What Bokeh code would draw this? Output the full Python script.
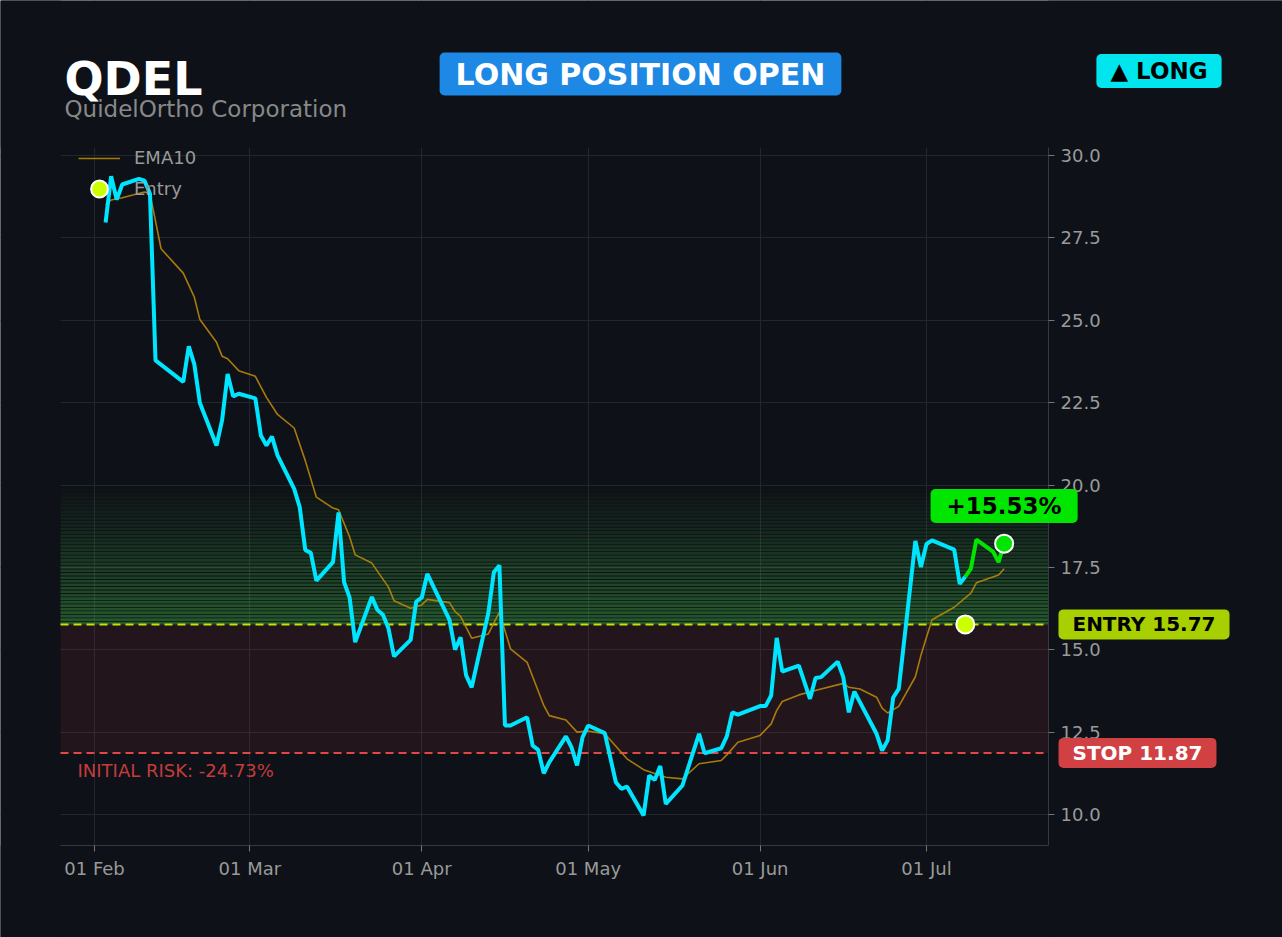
import re
from datetime import datetime, timedelta
import pandas as pd
from bokeh.plotting import figure
from bokeh.models import (BoxAnnotation, Label, Legend, LegendItem, MonthsTicker,
                          DatetimeTickFormatter, SingleIntervalTicker, NumeralTickFormatter, Range1d)
from bokeh.embed import file_html
from bokeh.resources import INLINE

# ---------------- data ----------------
TICKER = "QDEL"
COMPANY = "QuidelOrtho Corporation"
ENTRY = 15.77
STOP = 11.87
ENTRY_DATE = "2026-07-08"

price_dates = [
    "2026-02-03", "2026-02-04", "2026-02-05", "2026-02-06", "2026-02-09", "2026-02-10", "2026-02-11", "2026-02-12",
    "2026-02-17", "2026-02-18", "2026-02-19", "2026-02-20", "2026-02-23", "2026-02-24", "2026-02-25", "2026-02-26", "2026-02-27",
    "2026-03-02", "2026-03-03", "2026-03-04", "2026-03-05", "2026-03-06", "2026-03-09", "2026-03-10", "2026-03-11", "2026-03-12", "2026-03-13",
    "2026-03-16", "2026-03-17", "2026-03-18", "2026-03-19", "2026-03-20", "2026-03-23", "2026-03-24", "2026-03-25", "2026-03-26", "2026-03-27",
    "2026-03-30", "2026-03-31", "2026-04-01", "2026-04-02", "2026-04-06", "2026-04-07", "2026-04-08", "2026-04-09", "2026-04-10",
    "2026-04-13", "2026-04-14", "2026-04-15", "2026-04-16", "2026-04-17", "2026-04-20", "2026-04-21", "2026-04-22", "2026-04-23", "2026-04-24",
    "2026-04-27", "2026-04-28", "2026-04-29", "2026-04-30", "2026-05-01", "2026-05-04", "2026-05-06", "2026-05-07", "2026-05-08",
    "2026-05-11", "2026-05-12", "2026-05-13", "2026-05-14", "2026-05-15", "2026-05-18", "2026-05-21", "2026-05-22", "2026-05-25", "2026-05-26", "2026-05-27", "2026-05-28",
    "2026-06-01", "2026-06-02", "2026-06-03", "2026-06-04", "2026-06-05", "2026-06-08", "2026-06-10", "2026-06-11", "2026-06-12",
    "2026-06-15", "2026-06-16", "2026-06-17", "2026-06-18", "2026-06-22", "2026-06-23", "2026-06-24", "2026-06-25", "2026-06-26",
    "2026-06-29", "2026-06-30", "2026-07-01", "2026-07-02", "2026-07-06", "2026-07-07", "2026-07-08", "2026-07-09", "2026-07-10",
    "2026-07-13", "2026-07-14", "2026-07-15",
]
price_vals = [
    27.97, 29.37, 28.66, 29.12, 29.29, 29.24, 28.84, 23.78,
    23.13, 24.21, 23.66, 22.49, 21.20, 21.96, 23.37, 22.69, 22.77,
    22.63, 21.50, 21.20, 21.47, 20.90, 19.88, 19.33, 18.03, 17.94, 17.10,
    17.66, 19.17, 17.05, 16.58, 15.23, 16.60, 16.21, 16.06, 15.65, 14.80,
    15.30, 16.46, 16.58, 17.30, 15.91, 15.00, 15.38, 14.22, 13.86,
    16.11, 17.35, 17.56, 12.70, 12.70, 12.95, 12.09, 11.96, 11.25, 11.59,
    12.37, 12.04, 11.49, 12.35, 12.70, 12.47, 10.98, 10.78, 10.85,
    9.97, 11.18, 11.05, 11.47, 10.32, 10.88, 12.45, 11.86, 12.01, 12.37, 13.10, 13.03,
    13.29, 13.29, 13.61, 15.36, 14.34, 14.52, 13.51, 14.14, 14.17,
    14.64, 14.17, 13.10, 13.73, 12.45, 11.94, 12.25, 13.55, 13.81,
    18.30, 17.51, 18.21, 18.32, 18.04, 17.00, 17.22, 17.46, 18.34,
    17.98, 17.66, 18.219,
]

ema_dates = [
    "2026-02-03", "2026-02-04", "2026-02-06", "2026-02-10", "2026-02-11", "2026-02-13", "2026-02-17", "2026-02-19", "2026-02-20",
    "2026-02-23", "2026-02-24", "2026-02-25", "2026-02-27",
    "2026-03-02", "2026-03-04", "2026-03-06", "2026-03-09", "2026-03-11", "2026-03-13", "2026-03-16", "2026-03-17", "2026-03-19",
    "2026-03-20", "2026-03-23", "2026-03-26", "2026-03-27", "2026-03-30",
    "2026-04-01", "2026-04-02", "2026-04-06", "2026-04-07", "2026-04-08", "2026-04-10", "2026-04-13", "2026-04-15", "2026-04-17",
    "2026-04-20", "2026-04-23", "2026-04-24", "2026-04-27", "2026-04-29",
    "2026-05-01", "2026-05-04", "2026-05-08", "2026-05-11", "2026-05-15", "2026-05-18", "2026-05-21", "2026-05-25", "2026-05-26", "2026-05-28",
    "2026-06-01", "2026-06-03", "2026-06-04", "2026-06-05", "2026-06-08", "2026-06-12", "2026-06-16", "2026-06-17", "2026-06-19",
    "2026-06-22", "2026-06-23", "2026-06-24", "2026-06-26", "2026-06-29", "2026-06-30",
    "2026-07-01", "2026-07-02", "2026-07-06", "2026-07-09", "2026-07-10", "2026-07-14", "2026-07-15",
]
ema_vals = [
    28.50, 28.65, 28.72, 28.89, 28.85, 27.17, 26.43, 25.70, 25.02, 24.33, 23.91, 23.83, 23.47,
    23.30, 22.66, 22.14, 21.73, 20.74, 19.63, 19.30, 19.25, 18.42, 17.88, 17.63, 16.90, 16.49, 16.26,
    16.36, 16.53, 16.43, 16.16, 16.01, 15.35, 15.48, 16.14, 15.03, 14.62, 13.31, 13.00, 12.87, 12.50,
    12.53, 12.45, 11.69, 11.36, 11.13, 11.08, 11.54, 11.64, 11.81, 12.19,
    12.40, 12.75, 13.16, 13.43, 13.63, 13.81, 13.98, 13.86, 13.81, 13.56, 13.23, 13.08, 13.28, 14.18, 14.83,
    15.38, 15.91, 16.29, 16.72, 17.03, 17.27, 17.46,
]

y_tick_interval = 2.5

# ---------------- styling / layout ----------------
BG = "#0e1117"
FONT = "DejaVu Sans"
W, H = 1282, 937
# plot area in page pixels
AL, AR, AT, AB = 60, 1048, 147, 845

def ms(dt):
    return (dt - datetime(1970, 1, 1)).total_seconds() * 1000.0

feb1 = datetime(2026, 2, 1)
X0 = ms(feb1 - timedelta(days=6.13))     # left edge of plot area
X1 = ms(feb1 + timedelta(days=172.0))    # right edge of plot area
Y0, Y1 = 9.059, 30.243                   # bottom / top of plot area
UPX = (X1 - X0) / (AR - AL)
UPY = (Y1 - Y0) / (AB - AT)

def PX(px):
    return X0 + (px - AL) * UPX

def PY(py):
    return Y0 + (AB - py) * UPY

pdates = pd.to_datetime(price_dates)
edates = pd.to_datetime(ema_dates)
entry_dt = pd.Timestamp(ENTRY_DATE)

pre_x = [d for d in pdates if d <= entry_dt]
pre_y = [v for d, v in zip(pdates, price_vals) if d <= entry_dt]
post_x = [d for d in pdates if d >= entry_dt]
post_y = [v for d, v in zip(pdates, price_vals) if d >= entry_dt]

last_x, last_y = pdates[-1], price_vals[-1]
pnl = (last_y / ENTRY - 1) * 100
risk = (STOP / ENTRY - 1) * 100

# the frame covers the whole canvas; axes are pinned to the plot-area edges
p = figure(width=W, height=H, x_axis_type="datetime", y_axis_location="right",
           x_range=Range1d(PX(0), PX(W)), y_range=Range1d(PY(H), PY(0)),
           output_backend="svg", toolbar_location=None, min_border=0)
p.background_fill_color = BG
p.border_fill_color = BG
p.outline_line_color = None

# grid (masked outside the plot area)
p.xgrid.grid_line_color = "#22262d"
p.ygrid.grid_line_color = "#22262d"
p.xgrid.level = "image"
p.ygrid.level = "image"
for kw in (dict(bottom=Y1), dict(top=Y0), dict(right=X0), dict(left=X1)):
    p.add_layout(BoxAnnotation(fill_color=BG, fill_alpha=1.0, line_color=None, level="underlay", **kw))

# axes
p.xaxis.ticker = MonthsTicker(months=list(range(1, 13)))
p.xaxis.formatter = DatetimeTickFormatter(months="%d %b", days="%d %b")
p.yaxis.ticker = SingleIntervalTicker(interval=y_tick_interval, num_minor_ticks=0)
p.yaxis.formatter = NumeralTickFormatter(format="0.0")
p.xaxis.fixed_location = Y0
p.yaxis.fixed_location = X1
p.xaxis.bounds = (X0, X1)
p.yaxis.bounds = (Y0, Y1)
for ax in (p.xaxis[0], p.yaxis[0]):
    ax.axis_line_color = "#353a42"
    ax.major_tick_line_color = "#777777"
    ax.major_tick_out = 6
    ax.major_tick_in = 0
    ax.minor_tick_line_color = None
    ax.major_label_text_color = "#9a9a9a"
    ax.major_label_text_font = FONT
    ax.major_label_text_font_size = "18px"
    ax.major_label_standoff = 6

# zones
p.add_layout(BoxAnnotation(bottom=STOP, top=ENTRY, left=X0, right=X1, fill_color="#d64550",
                           fill_alpha=0.10, line_color=None, level="underlay"))
N = 40
GTOP = 20.0
step = (GTOP - ENTRY) / N
for i in range(N):
    p.add_layout(BoxAnnotation(bottom=ENTRY + i * step, top=ENTRY + (i + 0.75) * step,
                               left=X0, right=X1, fill_color="#3fae46",
                               fill_alpha=0.46 * (1 - i / N), line_color=None, level="underlay"))

p.segment(x0=[X0], y0=[ENTRY], x1=[X1], y1=[ENTRY], line_color="#c6e400", line_dash="8 5", line_width=2)
p.segment(x0=[X0], y0=[STOP], x1=[X1], y1=[STOP], line_color="#e04848", line_dash="8 5", line_width=2)

# series
ema_r = p.line(edates, ema_vals, line_color="#b8860b", line_width=1.6, line_alpha=0.9)
p.line(pre_x, pre_y, line_color="#00e5ff", line_width=4)
p.line(post_x, post_y, line_color="#00e600", line_width=4)
entry_r = p.scatter([entry_dt], [ENTRY], size=18, fill_color="#ccff00",
                    line_color="white", line_width=2)
p.scatter([last_x], [last_y], size=18, fill_color="#00e600", line_color="white", line_width=2)

leg_common = dict(padding=0, margin=0, spacing=0, glyph_width=42, label_height=20,
                  label_standoff=14, label_text_color="#9a9a9a", label_text_font=FONT,
                  label_text_font_size="18px", background_fill_alpha=0, border_line_color=None)
p.add_layout(Legend(items=[LegendItem(label="EMA10", renderers=[ema_r])],
                    location=(78, H - 168), glyph_height=20, **leg_common))
p.add_layout(Legend(items=[LegendItem(label="Entry", renderers=[entry_r])],
                    location=(78, H - 211), glyph_height=45, **leg_common))

# header texts
p.add_layout(Label(x=PX(64), y=PY(78.5), text=TICKER, text_font=FONT, text_font_size="46px",
                   text_font_style="bold", text_color="#ffffff", text_align="left",
                   text_baseline="middle"))
p.add_layout(Label(x=PX(64), y=PY(108), text=COMPANY, text_font=FONT, text_font_size="23px",
                   text_color="#888888", text_align="left", text_baseline="middle"))

def badge(xc, yc, text, size, bg, fg, pad_x, pad_y):
    p.add_layout(Label(x=xc, y=yc, text=text, text_font=FONT, text_font_size=size,
                       text_font_style="bold", text_color=fg, text_align="center",
                       text_baseline="middle", background_fill_color=bg, background_fill_alpha=1.0,
                       border_radius=5, padding=dict(x=pad_x, y=pad_y)))

badge(PX(640), PY(73.5), "LONG POSITION OPEN", "30px", "#1e88e5", "#ffffff", 16, 4)
badge(PX(1158.5), PY(70.5), "\u25b2 LONG", "23px", "#00e5ee", "#000000", 14, 4)
badge(ms(last_x.to_pydatetime()), PY(505.5), f"{pnl:+.2f}%", "23px", "#00e600", "#000000", 16, 4)
badge(PX(1143.5), ENTRY, f"ENTRY {ENTRY:.2f}", "20px", "#a8d000", "#000000", 14, 3)
badge(PX(1137), STOP, f"STOP {STOP:.2f}", "20px", "#d14143", "#ffffff", 14, 3)

p.add_layout(Label(x=PX(77), y=PY(769.5), text=f"INITIAL RISK: {risk:.2f}%", text_font=FONT,
                   text_font_size="18px", text_color="#c43c3c", text_align="left",
                   text_baseline="middle"))

html = file_html(p, INLINE, title="QDEL")
html = re.sub(r"<body[^>]*>",
              '<body style="margin:0;padding:0;background-color:#0e1117;overflow:hidden;">',
              html, count=1)
open("out.html", "w").write(html)
